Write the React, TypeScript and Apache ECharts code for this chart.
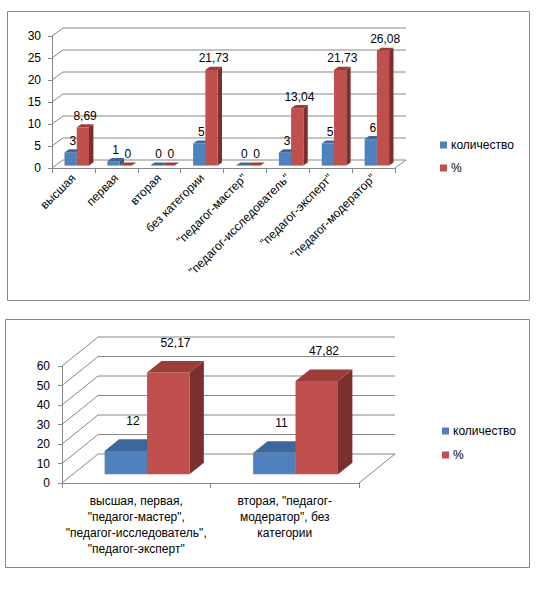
import * as echarts from "echarts";
import React, { useEffect, useRef } from "react";

const seriesNames = ["количество", "%"];

const categories1 = [
	"высшая",
	"первая",
	"вторая",
	"без категории",
	"\"педагог-мастер\"",
	"\"педагог-исследователь\"",
	"\"педагог-эксперт\"",
	"\"педагог-модератор\"",
];
const counts1 = [3, 1, 0, 5, 0, 3, 5, 6];
const percents1 = [8.69, 0, 0, 21.73, 0, 13.04, 21.73, 26.08];
const yTicks1 = [0, 5, 10, 15, 20, 25, 30];

const categories2 = [
	"высшая, первая,\n\"педагог-мастер\",\n\"педагог-исследователь\",\n\"педагог-эксперт\"",
	"вторая, \"педагог-\nмодератор\", без\nкатегории",
];
const counts2 = [12, 11];
const percents2 = [52.17, 47.82];
const yTicks2 = [0, 10, 20, 30, 40, 50, 60];

const FONT = "'Liberation Sans', Arial, sans-serif";
const GRAY = "#868686";
// front / top / side faces of the 3D columns
const faces = [
	{ front: "#4F81BD", top: "#3C679A", side: "#33577F" },
	{ front: "#C0504D", top: "#9C3D3A", side: "#7C2F2D" },
];

const fmt = (v: number) => String(v).replace(".", ",");

// back wall, side wall and floor of the 3D plot
const wallRenderer = (depth: number[]) => (params: any, api: any) => {
	const cs = params.coordSys;
	const v = api.value(1);
	const y = api.coord([0, v])[1];
	const x0 = cs.x;
	const x1 = cs.x + cs.width;
	const [dx, dy] = depth;
	const line = (a: number[], b: number[]) => ({
		type: "line",
		shape: { x1: a[0], y1: a[1], x2: b[0], y2: b[1] },
		style: { stroke: GRAY, lineWidth: 1 },
		silent: true,
	});
	const children: any[] = [line([x0, y], [x0 + dx, y + dy]), line([x0 + dx, y + dy], [x1 + dx, y + dy])];
	if (v === 0) children.push(line([x1, y], [x1 + dx, y + dy]));
	return { type: "group", children };
};

const barRenderer = (depth: number[], idx: number, lift: number) => (params: any, api: any) => {
	const ci = api.value(0);
	const v = api.value(1);
	const base = api.coord([ci, 0]);
	const top = api.coord([ci, v]);
	const band = api.size([1, 0])[0];
	const w = band / 3.5;
	const [dx, dy] = depth;
	const fx = dx * 0.3;
	const fy = dy * 0.3;
	const bx = dx * 0.4;
	const by = dy * 0.4;
	const x0 = base[0] - w + idx * w + fx;
	const x1 = x0 + w;
	const yb = base[1] + fy;
	const yt = top[1] + fy;
	const c = faces[idx];
	return {
		type: "group",
		children: [
			{
				type: "polygon",
				shape: { points: [[x1, yb], [x1, yt], [x1 + bx, yt + by], [x1 + bx, yb + by]] },
				style: { fill: c.side },
			},
			{
				type: "rect",
				shape: { x: x0, y: yt, width: w, height: yb - yt },
				style: { fill: c.front },
			},
			{
				type: "polygon",
				shape: { points: [[x0, yt], [x1, yt], [x1 + bx, yt + by], [x0 + bx, yt + by]] },
				style: { fill: c.top },
			},
			{
				type: "text",
				x: x0 + w / 2 + bx / 2,
				y: yt + by / 2 - lift,
				style: {
					text: fmt(v),
					fill: "#000",
					font: `12px ${FONT}`,
					align: "center",
					verticalAlign: "middle",
				},
			},
		],
	};
};

export default function App() {
	const ref = useRef<HTMLDivElement>(null);

	useEffect(() => {
		const chart = echarts.init(ref.current, null, { renderer: "svg" });
		const depth1 = [11, -8];
		const depth2 = [36, -29];
		const axisText = { color: "#000", fontSize: 12, fontFamily: FONT };

		chart.setOption({
			animation: false,
			backgroundColor: "#fff",
			textStyle: { fontFamily: FONT },
			graphic: [
				{ type: "rect", shape: { x: 7.5, y: 11.5, width: 522, height: 289 }, style: { fill: "none", stroke: GRAY, lineWidth: 1 }, z: -1 },
				{ type: "rect", shape: { x: 5.5, y: 319.5, width: 524, height: 248 }, style: { fill: "none", stroke: GRAY, lineWidth: 1 }, z: -1 },
			],
			grid: [
				{ left: 52, top: 36, width: 343, height: 132 },
				{ left: 62, top: 366, width: 297, height: 117 },
			],
			legend: [
				{
					data: seriesNames,
					orient: "vertical",
					left: 440,
					top: 139,
					padding: 0,
					itemWidth: 7,
					itemHeight: 7,
					itemGap: 11,
					icon: "rect",
					textStyle: { ...axisText, padding: [0, 0, 0, -1] },
				},
				{
					data: seriesNames,
					orient: "vertical",
					left: 442,
					top: 425,
					padding: 0,
					itemWidth: 7,
					itemHeight: 7,
					itemGap: 12,
					icon: "rect",
					textStyle: { ...axisText, padding: [0, 0, 0, -1] },
				},
			],
			xAxis: [
				{
					gridIndex: 0,
					type: "category",
					data: categories1,
					axisLine: { lineStyle: { color: GRAY } },
					axisTick: { show: true, length: 5, interval: 0, lineStyle: { color: GRAY } },
					axisLabel: { ...axisText, interval: 0, rotate: 45, margin: 8 },
				},
				{
					gridIndex: 1,
					type: "category",
					data: categories2,
					axisLine: { lineStyle: { color: GRAY } },
					axisTick: { show: true, length: 5, interval: 0, lineStyle: { color: GRAY } },
					axisLabel: { ...axisText, interval: 0, margin: 10, lineHeight: 16 },
				},
			],
			yAxis: [
				{
					gridIndex: 0,
					type: "value",
					min: yTicks1[0],
					max: yTicks1[yTicks1.length - 1],
					interval: yTicks1[1] - yTicks1[0],
					axisLine: { show: true, lineStyle: { color: GRAY } },
					axisTick: { show: true, length: 4, lineStyle: { color: GRAY } },
					splitLine: { show: false },
					axisLabel: { ...axisText, margin: 11 },
				},
				{
					gridIndex: 1,
					type: "value",
					min: yTicks2[0],
					max: yTicks2[yTicks2.length - 1],
					interval: yTicks2[1] - yTicks2[0],
					axisLine: { show: true, lineStyle: { color: GRAY } },
					axisTick: { show: true, length: 4, lineStyle: { color: GRAY } },
					splitLine: { show: false },
					axisLabel: { ...axisText, margin: 12 },
				},
			],
			series: [
				{
					name: "walls1",
					type: "custom",
					xAxisIndex: 0,
					yAxisIndex: 0,
					silent: true,
					z: 1,
					renderItem: wallRenderer(depth1),
					data: yTicks1.map((v) => [0, v]),
				},
				{
					name: "walls2",
					type: "custom",
					xAxisIndex: 1,
					yAxisIndex: 1,
					silent: true,
					z: 1,
					renderItem: wallRenderer(depth2),
					data: yTicks2.map((v) => [0, v]),
				},
				{
					name: seriesNames[0],
					type: "custom",
					xAxisIndex: 0,
					yAxisIndex: 0,
					z: 2,
					itemStyle: { color: faces[0].front },
					renderItem: barRenderer(depth1, 0, 10),
					data: counts1.map((v, i) => [i, v]),
				},
				{
					name: seriesNames[1],
					type: "custom",
					xAxisIndex: 0,
					yAxisIndex: 0,
					z: 3,
					itemStyle: { color: faces[1].front },
					renderItem: barRenderer(depth1, 1, 10),
					data: percents1.map((v, i) => [i, v]),
				},
				{
					name: seriesNames[0],
					type: "custom",
					xAxisIndex: 1,
					yAxisIndex: 1,
					z: 2,
					itemStyle: { color: faces[0].front },
					renderItem: barRenderer(depth2, 0, 24),
					data: counts2.map((v, i) => [i, v]),
				},
				{
					name: seriesNames[1],
					type: "custom",
					xAxisIndex: 1,
					yAxisIndex: 1,
					z: 3,
					itemStyle: { color: faces[1].front },
					renderItem: barRenderer(depth2, 1, 24),
					data: percents2.map((v, i) => [i, v]),
				},
			],
		});

		return () => chart.dispose();
	}, []);

	return <div ref={ref} style={{ position: "fixed", left: 0, top: 0, width: 548, height: 595 }} />;
}
